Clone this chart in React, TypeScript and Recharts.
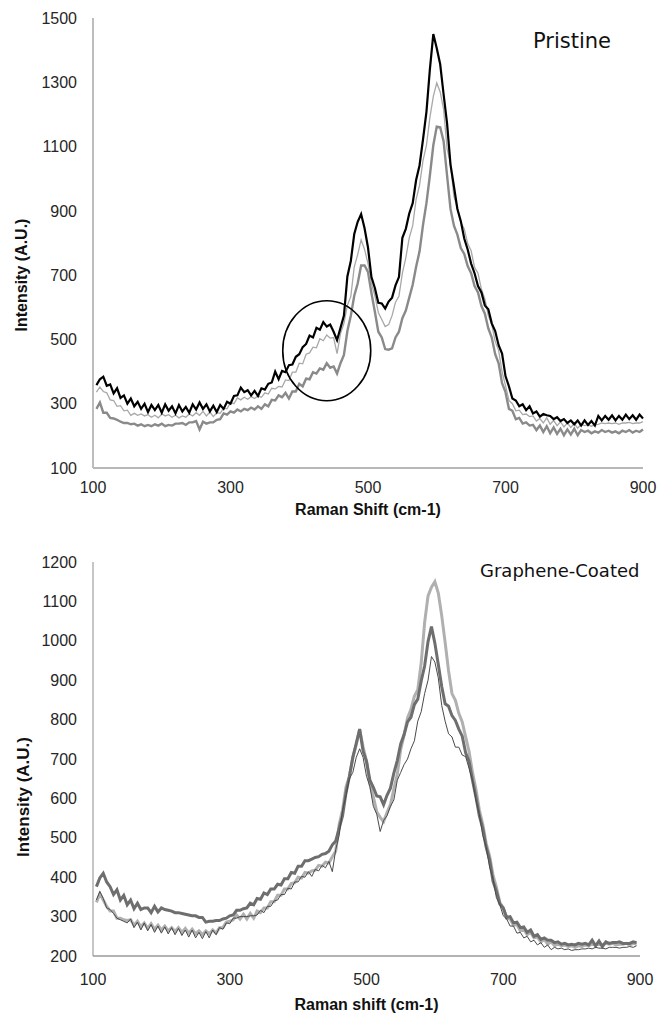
import React from 'react';
import { LineChart, Line, XAxis, YAxis, ReferenceDot } from 'recharts';

// Raman shift grid (cm-1)
const shiftTop = [
  105, 110, 115, 120, 125, 130, 135, 140, 145, 150, 155, 160, 165, 170, 175, 180, 185, 190, 195, 200,
  205, 210, 215, 220, 225, 230, 235, 240, 245, 250, 255, 260, 265, 270, 275, 280, 285, 290, 295, 300,
  305, 310, 315, 320, 325, 330, 335, 340, 345, 350, 355, 360, 365, 370, 375, 380, 385, 390, 395, 400,
  405, 410, 415, 420, 425, 430, 435, 440, 445, 450, 455, 460, 465, 470, 475, 480, 485, 490, 495, 500,
  505, 510, 515, 520, 525, 530, 535, 540, 545, 550, 555, 560, 565, 570, 575, 580, 585, 590, 595, 600,
  605, 610, 615, 620, 625, 630, 635, 640, 645, 650, 655, 660, 665, 670, 675, 680, 685, 690, 695, 700,
  705, 710, 715, 720, 725, 730, 735, 740, 745, 750, 755, 760, 765, 770, 775, 780, 785, 790, 795, 800,
  805, 810, 815, 820, 825, 830, 835, 840, 845, 850, 855, 860, 865, 870, 875, 880, 885, 890, 895, 900,
];

// Pristine: black, light grey, mid grey
const pristineBlack = [
  358, 376, 384, 356, 360, 332, 348, 318, 326, 300,
  316, 292, 306, 284, 300, 274, 296, 280, 296, 272,
  298, 278, 292, 270, 296, 276, 290, 272, 298, 282,
  304, 284, 298, 276, 294, 274, 296, 284, 306, 300,
  324, 326, 350, 336, 342, 326, 340, 324, 348, 344,
  362, 366, 400, 376, 402, 398, 420, 422, 446, 454,
  476, 486, 512, 506, 536, 530, 554, 540, 546, 524,
  498, 536, 574, 696, 744, 828, 866, 890, 846, 786,
  694, 660, 614, 612, 596, 618, 630, 668, 694, 816,
  844, 892, 924, 996, 1042, 1122, 1208, 1340, 1450, 1406,
  1356, 1262, 1172, 1044, 976, 906, 868, 814, 780, 736,
  706, 666, 646, 606, 594, 550, 526, 482, 456, 386,
  354, 316, 310, 292, 298, 280, 292, 270, 276, 260,
  268, 264, 262, 252, 258, 246, 252, 240, 248, 236,
  248, 232, 248, 234, 246, 232, 262, 248, 262, 250,
  264, 248, 262, 250, 266, 252, 264, 250, 266, 254,
];
const pristineLight = [
  336, 352, 338, 334, 312, 310, 292, 294, 278, 280,
  264, 270, 264, 268, 262, 266, 258, 264, 256, 268,
  262, 266, 258, 264, 256, 262, 258, 268, 262, 272,
  264, 276, 262, 274, 260, 272, 270, 286, 284, 304,
  300, 318, 312, 320, 314, 322, 316, 324, 320, 334,
  330, 348, 346, 354, 352, 374, 372, 398, 398, 426,
  424, 454, 458, 476, 474, 502, 496, 514, 504, 506,
  456, 518, 550, 606, 634, 726, 764, 810, 780, 736,
  674, 636, 584, 562, 540, 546, 574, 616, 634, 706,
  754, 816, 854, 936, 980, 1056, 1104, 1190, 1256, 1298,
  1270, 1216, 1094, 1046, 944, 910, 864, 844, 798, 776,
  724, 706, 656, 626, 574, 546, 494, 466, 400, 356,
  310, 300, 278, 280, 266, 268, 260, 262, 246, 254,
  240, 256, 236, 248, 232, 244, 228, 240, 226, 238,
  224, 236, 232, 234, 230, 234, 236, 240, 238, 240,
  238, 240, 236, 240, 240, 242, 238, 240, 240, 244,
];
const pristineGrey = [
  284, 304, 272, 272, 256, 254, 250, 244, 240, 240,
  236, 238, 232, 236, 230, 234, 230, 236, 232, 238,
  230, 234, 232, 238, 238, 240, 234, 242, 242, 246,
  220, 244, 238, 242, 242, 250, 252, 270, 266, 276,
  272, 282, 276, 284, 280, 288, 282, 292, 284, 298,
  292, 312, 310, 326, 320, 334, 316, 338, 338, 362,
  354, 378, 376, 398, 394, 410, 406, 426, 412, 416,
  394, 426, 452, 526, 574, 636, 674, 730, 730, 710,
  644, 586, 524, 506, 470, 468, 472, 506, 524, 566,
  590, 630, 670, 726, 774, 856, 924, 1010, 1104, 1162,
  1160, 1116, 1010, 906, 854, 826, 784, 766, 728, 706,
  666, 646, 604, 580, 534, 506, 454, 426, 364, 336,
  284, 278, 252, 256, 238, 242, 232, 234, 218, 232,
  212, 230, 208, 226, 206, 222, 202, 220, 204, 222,
  202, 218, 212, 216, 208, 214, 210, 218, 212, 216,
  210, 214, 208, 216, 212, 218, 210, 216, 212, 220,
];

const shiftBottom = shiftTop.slice(0, 159);

// Graphene-coated: dark grey (thick), light grey (thick), thin dark
const coatedDark = [
  376, 398, 410, 388, 376, 356, 368, 342, 354, 330,
  342, 320, 334, 318, 322, 322, 310, 326, 312, 322,
  318, 316, 314, 310, 310, 308, 306, 304, 302, 302,
  298, 298, 286, 288, 288, 290, 290, 294, 296, 302,
  304, 316, 316, 320, 322, 334, 330, 346, 344, 360,
  356, 370, 370, 382, 380, 396, 396, 412, 410, 428,
  428, 442, 442, 446, 450, 452, 458, 460, 466, 482,
  492, 524, 556, 614, 656, 704, 740, 776, 720, 694,
  646, 628, 606, 604, 584, 608, 626, 664, 696, 738,
  762, 794, 806, 838, 852, 898, 936, 998, 1036, 994,
  940, 884, 840, 834, 810, 798, 776, 758, 716, 694,
  646, 604, 556, 524, 476, 444, 390, 364, 332, 322,
  298, 300, 284, 286, 272, 274, 260, 266, 250, 254,
  242, 246, 240, 240, 234, 236, 230, 232, 228, 230,
  228, 232, 230, 232, 228, 240, 226, 238, 224, 236,
  232, 234, 234, 236, 232, 232, 232, 236, 234,
];
const coatedLight = [
  336, 358, 342, 326, 314, 314, 296, 296, 292, 290,
  292, 278, 288, 274, 284, 270, 282, 268, 278, 266,
  276, 264, 272, 262, 272, 260, 270, 258, 268, 256,
  264, 254, 264, 256, 266, 258, 272, 272, 286, 288,
  292, 304, 294, 306, 294, 308, 296, 314, 310, 322,
  322, 338, 338, 354, 354, 370, 370, 384, 386, 400,
  398, 412, 410, 416, 418, 430, 428, 438, 436, 452,
  466, 534, 571, 629, 656, 704, 736, 774, 731, 694,
  636, 604, 566, 552, 541, 564, 584, 624, 661, 724,
  761, 804, 826, 859, 876, 944, 1046, 1114, 1136, 1150,
  1121, 1064, 996, 924, 866, 849, 816, 794, 756, 719,
  666, 624, 571, 534, 486, 454, 406, 374, 336, 322,
  296, 294, 278, 280, 264, 268, 254, 260, 246, 248,
  236, 242, 230, 236, 226, 230, 226, 228, 224, 226,
  222, 226, 224, 228, 226, 230, 228, 230, 228, 232,
  230, 232, 228, 230, 230, 232, 228, 232, 230,
];
const coatedThin = [
  342, 364, 346, 322, 318, 308, 296, 292, 288, 284,
  294, 272, 286, 266, 284, 264, 280, 260, 276, 258,
  274, 256, 272, 254, 270, 252, 266, 248, 266, 246,
  260, 244, 262, 246, 266, 254, 272, 268, 284, 282,
  296, 296, 300, 300, 300, 302, 302, 304, 316, 310,
  326, 326, 340, 342, 356, 356, 372, 370, 388, 388,
  402, 400, 414, 402, 420, 416, 430, 424, 440, 414,
  470, 506, 570, 606, 650, 666, 704, 726, 704, 656,
  630, 580, 560, 516, 544, 556, 580, 596, 646, 666,
  686, 700, 726, 746, 796, 820, 866, 900, 960, 946,
  906, 836, 796, 764, 756, 730, 730, 710, 706, 676,
  646, 596, 560, 506, 476, 426, 396, 348, 330, 302,
  294, 276, 276, 258, 260, 246, 250, 236, 240, 228,
  234, 222, 228, 216, 222, 218, 220, 216, 218, 214,
  216, 216, 218, 218, 220, 218, 222, 220, 220, 218,
  222, 222, 222, 220, 222, 222, 224, 222, 226,
];

const xTicks = [100, 300, 500, 700, 900];
const topYTicks = [100, 300, 500, 700, 900, 1100, 1300, 1500];
const bottomYTicks = [200, 300, 400, 500, 600, 700, 800, 900, 1000, 1100, 1200];

const topData = shiftTop.map((s, i) => ({
  shift: s,
  black: pristineBlack[i],
  light: pristineLight[i],
  grey: pristineGrey[i],
}));

const bottomData = shiftBottom.map((s, i) => ({
  shift: s,
  dark: coatedDark[i],
  light: coatedLight[i],
  thin: coatedThin[i],
}));

const tickStyle = { fontFamily: '"Liberation Sans", Arial, sans-serif', fontSize: 16, fill: '#262626' };
const titleStyle = { fontFamily: '"Liberation Sans", Arial, sans-serif', fontSize: 16, fontWeight: 700, fill: '#111' };

const yTitle = (x: number, y: number, size: number) => ({
  content: () => (
    <text
      x={x}
      y={y}
      transform={`rotate(-90 ${x} ${y})`}
      textAnchor="middle"
      dominantBaseline="central"
      style={{ ...titleStyle, fontSize: size }}
    >
      Intensity (A.U.)
    </text>
  ),
});

const circleShape = (p: any) => (
  <ellipse cx={p.cx} cy={p.cy} rx={44} ry={50} fill="none" stroke="#000" strokeWidth={1.6} />
);

export default function App() {
  return (
    <div style={{ position: 'absolute', left: 0, top: 0, width: 659, height: 1013, background: '#fff' }}>
      <div style={{ position: 'absolute', left: 0, top: 0 }}>
        <LineChart width={659} height={530} data={topData} margin={{ top: 18, right: 16, left: 10, bottom: 32 }}>
          <XAxis
            dataKey="shift"
            type="number"
            domain={[100, 900]}
            ticks={xTicks}
            height={30}
            tickSize={0}
            tickMargin={14}
            tickLine={false}
            axisLine={{ stroke: '#a0a0a0', strokeWidth: 1.5 }}
            tick={tickStyle}
            label={{ value: 'Raman Shift (cm-1)', position: 'bottom', offset: 6, style: titleStyle }}
          />
          <YAxis
            type="number"
            domain={[100, 1500]}
            ticks={topYTicks}
            width={83}
            tickSize={0}
            tickMargin={16}
            tickLine={false}
            axisLine={{ stroke: '#bdbdbd', strokeWidth: 2 }}
            tick={tickStyle}
            label={yTitle(21, 275, 16)}
          />
          <Line type="linear" dataKey="grey" stroke="#8a8a8a" strokeWidth={2.4} dot={false} isAnimationActive={false} />
          <Line type="linear" dataKey="light" stroke="#a8a8a8" strokeWidth={1.3} dot={false} isAnimationActive={false} />
          <Line type="linear" dataKey="black" stroke="#000" strokeWidth={2.2} dot={false} isAnimationActive={false} />
          <ReferenceDot x={440} y={465} r={0} shape={circleShape} />
        </LineChart>
      </div>
      <div
        style={{
          position: 'absolute',
          left: 533,
          top: 31,
          fontFamily: '"DejaVu Sans", Verdana, sans-serif',
          fontSize: 21,
          lineHeight: '21px',
          color: '#111',
          whiteSpace: 'nowrap',
        }}
      >
        Pristine
      </div>

      <div style={{ position: 'absolute', left: 0, top: 520 }}>
        <LineChart width={659} height={493} data={bottomData} margin={{ top: 42, right: 19, left: 10, bottom: 27 }}>
          <XAxis
            dataKey="shift"
            type="number"
            domain={[100, 900]}
            ticks={xTicks}
            height={30}
            tickSize={0}
            tickMargin={18}
            tickLine={false}
            axisLine={{ stroke: '#9a9a9a', strokeWidth: 1.5 }}
            tick={tickStyle}
            label={{ value: 'Raman shift (cm-1)', position: 'bottom', offset: 13, style: titleStyle }}
          />
          <YAxis
            type="number"
            domain={[200, 1200]}
            ticks={bottomYTicks}
            width={83}
            tickSize={0}
            tickMargin={16}
            tickLine={false}
            axisLine={{ stroke: '#8c8c8c', strokeWidth: 1 }}
            tick={tickStyle}
            label={yTitle(23, 277, 17)}
          />
          <Line type="linear" dataKey="light" stroke="#b0b0b0" strokeWidth={3} dot={false} isAnimationActive={false} />
          <Line type="linear" dataKey="dark" stroke="#6e6e6e" strokeWidth={3} dot={false} isAnimationActive={false} />
          <Line type="linear" dataKey="thin" stroke="#4a4a4a" strokeWidth={1} dot={false} isAnimationActive={false} />
        </LineChart>
      </div>
      <div
        style={{
          position: 'absolute',
          left: 480,
          top: 562,
          fontFamily: '"DejaVu Sans", Verdana, sans-serif',
          fontSize: 18,
          lineHeight: '18px',
          color: '#111',
          whiteSpace: 'nowrap',
        }}
      >
        Graphene-Coated
      </div>
    </div>
  );
}
